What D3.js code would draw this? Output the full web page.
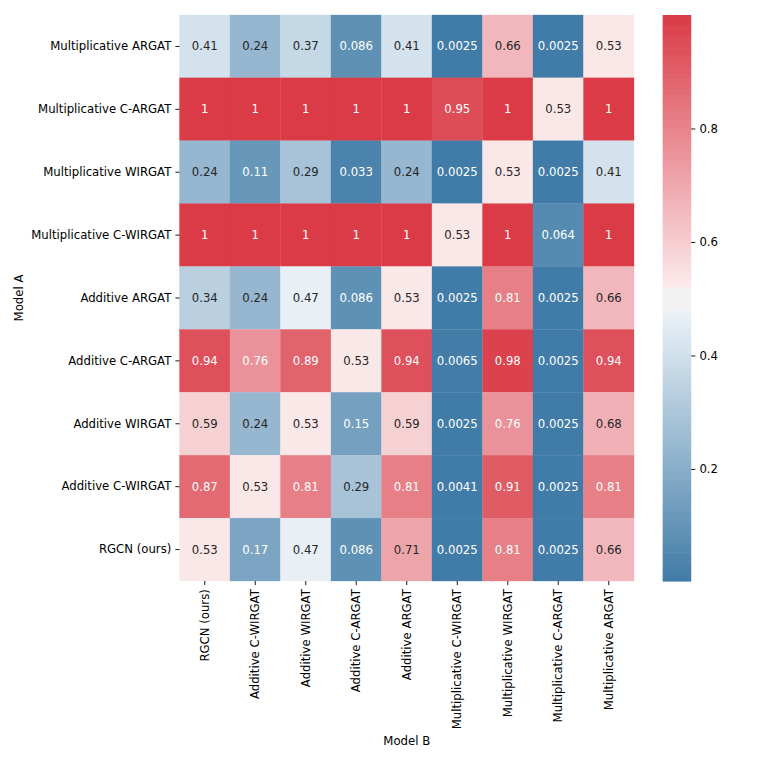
<!DOCTYPE html>
<html>
<head>
<meta charset="utf-8">
<script src="https://cdn.jsdelivr.net/npm/d3@7"></script>
<style>
  html, body { margin: 0; padding: 0; background: #fff; }
  svg { display: block; font-family: "DejaVu Sans", sans-serif; }
</style>
</head>
<body>
<svg id="chart" width="761" height="761"></svg>
<script>
// ---------------- data ----------------
const rowLabels = ["Multiplicative ARGAT", "Multiplicative C-ARGAT", "Multiplicative WIRGAT",
  "Multiplicative C-WIRGAT", "Additive ARGAT", "Additive C-ARGAT", "Additive WIRGAT",
  "Additive C-WIRGAT", "RGCN (ours)"];
const colLabels = ["RGCN (ours)", "Additive C-WIRGAT", "Additive WIRGAT", "Additive C-ARGAT",
  "Additive ARGAT", "Multiplicative C-WIRGAT", "Multiplicative WIRGAT",
  "Multiplicative C-ARGAT", "Multiplicative ARGAT"];
const row0 = [0.41, 0.24, 0.37, 0.086, 0.41, 0.0025, 0.66, 0.0025, 0.53];
const row1 = [1, 1, 1, 1, 1, 0.95, 1, 0.53, 1];
const row2 = [0.24, 0.11, 0.29, 0.033, 0.24, 0.0025, 0.53, 0.0025, 0.41];
const row3 = [1, 1, 1, 1, 1, 0.53, 1, 0.064, 1];
const row4 = [0.34, 0.24, 0.47, 0.086, 0.53, 0.0025, 0.81, 0.0025, 0.66];
const row5 = [0.94, 0.76, 0.89, 0.53, 0.94, 0.0065, 0.98, 0.0025, 0.94];
const row6 = [0.59, 0.24, 0.53, 0.15, 0.59, 0.0025, 0.76, 0.0025, 0.68];
const row7 = [0.87, 0.53, 0.81, 0.29, 0.81, 0.0041, 0.91, 0.0025, 0.81];
const row8 = [0.53, 0.17, 0.47, 0.086, 0.71, 0.0025, 0.81, 0.0025, 0.66];
const matrix = [row0, row1, row2, row3, row4, row5, row6, row7, row8];
const cbarTicks = [0.2, 0.4, 0.6, 0.8];
const xTitle = "Model B";
const yTitle = "Model A";

// ---------------- colormap (seaborn diverging_palette(240, 10), sep=10) ----------------
const M = [[3.2406, -1.5372, -0.4986], [-0.9689, 1.8758, 0.0415], [0.0557, -0.2040, 1.0570]];
const refU = 0.19784, refV = 0.46834, labE = 0.008856, labK = 903.3;
function maxChroma(L, H) {
  const hr = H * Math.PI / 180, sinH = Math.sin(hr), cosH = Math.cos(hr);
  const sub1 = Math.pow(L + 16, 3) / 1560896.0;
  const sub2 = sub1 > 0.008856 ? sub1 : L / 903.3;
  let result = Infinity;
  for (const [m1, m2, m3] of M) {
    const top = (0.99915 * m1 + 1.05122 * m2 + 1.14460 * m3) * sub2;
    const rb = 0.86330 * m3 - 0.17266 * m2;
    const lb = 0.12949 * m3 - 0.38848 * m1;
    const bottom = (rb * sinH + lb * cosH) * sub2;
    for (const t of [0, 1]) {
      const C = L * (top - 1.05122 * t) / (bottom + 0.17266 * sinH * t);
      if (C > 0 && C < result) result = C;
    }
  }
  return result;
}
function husl(H, S, L) {
  const C = L > 99.9999999 ? 0 : maxChroma(L, H) / 100 * S;
  const hr = H * Math.PI / 180;
  const U = C * Math.cos(hr), V = C * Math.sin(hr);
  if (L === 0) return [0, 0, 0];
  const t = (L + 16) / 116;
  const Y = Math.pow(t, 3) > labE ? Math.pow(t, 3) : (116 * t - 16) / labK;
  const vU = U / (13 * L) + refU, vV = V / (13 * L) + refV;
  const X = 0 - (9 * Y * vU) / ((vU - 4) * vV - vU * vV);
  const Z = (9 * Y - 15 * vV * Y - vV * X) / (3 * vV);
  return M.map(r => {
    const c = r[0] * X + r[1] * Y + r[2] * Z;
    const s = c <= 0.0031308 ? 12.92 * c : 1.055 * Math.pow(c, 1 / 2.4) - 0.055;
    return Math.max(0, Math.min(1, s));
  });
}
// python colorsys rgb<->hls, used to set lightness to 0.95
function rgbToHls([r, g, b]) {
  const maxc = Math.max(r, g, b), minc = Math.min(r, g, b);
  const l = (minc + maxc) / 2;
  if (minc === maxc) return [0, l, 0];
  const s = l <= 0.5 ? (maxc - minc) / (maxc + minc) : (maxc - minc) / (2 - maxc - minc);
  const rc = (maxc - r) / (maxc - minc), gc = (maxc - g) / (maxc - minc), bc = (maxc - b) / (maxc - minc);
  let h;
  if (r === maxc) h = bc - gc; else if (g === maxc) h = 2 + rc - bc; else h = 4 + gc - rc;
  h = ((h / 6) % 1 + 1) % 1;
  return [h, l, s];
}
function hlsToRgb([h, l, s]) {
  if (s === 0) return [l, l, l];
  const m2 = l <= 0.5 ? l * (1 + s) : l + s - l * s;
  const m1 = 2 * l - m2;
  const v = hue => {
    hue = ((hue % 1) + 1) % 1;
    if (hue < 1 / 6) return m1 + (m2 - m1) * hue * 6;
    if (hue < 0.5) return m2;
    if (hue < 2 / 3) return m1 + (m2 - m1) * (2 / 3 - hue) * 6;
    return m1;
  };
  return [v(h + 1 / 3), v(h), v(h - 1 / 3)];
}
const lighten = c => { const [h, , s] = rgbToHls(c); return hlsToRgb([h, 0.95, s]); };

const sep = 10, nSide = 128 - Math.floor(sep / 2);
const negDark = husl(240, 75, 50), negLight = lighten(negDark);
const posDark = husl(10, 75, 50), posLight = lighten(posDark);
const lerp = (a, b, t) => a.map((v, i) => v + (b[i] - v) * t);
const lut = [];
for (let i = 0; i < nSide; i++) lut.push(lerp(negDark, negLight, i / (nSide - 1)));
for (let i = 0; i < sep; i++) lut.push([0.95, 0.95, 0.95]);
for (let i = 0; i < nSide; i++) lut.push(lerp(posLight, posDark, i / (nSide - 1)));
const N = lut.length;
const allVals = matrix.flat();
const vmin = d3.min(allVals), vmax = d3.max(allVals);
function cmap(v) {
  const x = (v - vmin) / (vmax - vmin);
  const k = Math.max(0, Math.min(N - 1, Math.floor(x * N)));
  return lut[k];
}
const toCss = c => d3.rgb(c[0] * 255, c[1] * 255, c[2] * 255).formatHex();
function relLum(c) {
  const l = c.map(v => v <= 0.03928 ? v / 12.92 : Math.pow((v + 0.055) / 1.055, 2.4));
  return 0.2126 * l[0] + 0.7152 * l[1] + 0.0722 * l[2];
}
const fmt = v => {
  let s = d3.format(".2")(v);
  if (s.includes("e")) s = String(v);
  return s;
};

// ---------------- layout ----------------
const svg = d3.select("#chart");
const fs = 11.7;
const hm = { x0: 179.5, x1: 634, y0: 15, y1: 581 };
const cb = { x0: 662.7, x1: 691.2 };
const tickLen = 4.1, tickPad = 4.1;

const x = d3.scaleBand().domain(d3.range(colLabels.length)).range([hm.x0, hm.x1]);
const y = d3.scaleBand().domain(d3.range(rowLabels.length)).range([hm.y0, hm.y1]);

const cells = [];
matrix.forEach((row, i) => row.forEach((v, j) => cells.push({ i, j, v })));

const g = svg.append("g");
g.selectAll("rect.cell").data(cells).join("rect")
  .attr("class", "cell")
  .attr("x", d => x(d.j)).attr("y", d => y(d.i))
  .attr("width", x.bandwidth()).attr("height", y.bandwidth())
  .attr("fill", d => toCss(cmap(d.v)))
  .attr("stroke", d => toCss(cmap(d.v))).attr("stroke-width", 0.3);

g.selectAll("text.annot").data(cells).join("text")
  .attr("class", "annot")
  .attr("x", d => x(d.j) + x.bandwidth() / 2)
  .attr("y", d => y(d.i) + y.bandwidth() / 2)
  .attr("text-anchor", "middle").attr("dominant-baseline", "central")
  .attr("font-size", fs)
  .attr("fill", d => relLum(cmap(d.v)) > 0.408 ? "#262626" : "#ffffff")
  .text(d => fmt(d.v));

// y axis
const yAxis = svg.append("g").attr("transform", `translate(${hm.x0},0)`)
  .call(d3.axisLeft(y).tickSize(tickLen).tickPadding(tickPad).tickFormat(i => rowLabels[i]));
yAxis.select(".domain").remove();
yAxis.selectAll("text").attr("font-size", fs).attr("font-family", "DejaVu Sans").attr("fill", "#000");
yAxis.selectAll("line").attr("stroke", "#000").attr("stroke-width", 0.9);

// x axis
const xAxis = svg.append("g").attr("transform", `translate(0,${hm.y1})`)
  .call(d3.axisBottom(x).tickSize(tickLen).tickPadding(tickPad).tickFormat(j => colLabels[j]));
xAxis.select(".domain").remove();
xAxis.selectAll("line").attr("stroke", "#000").attr("stroke-width", 0.9);
xAxis.selectAll("text")
  .attr("font-size", fs).attr("font-family", "DejaVu Sans").attr("fill", "#000")
  .attr("text-anchor", "end").attr("dy", null)
  .attr("dominant-baseline", "central")
  .attr("transform", `translate(0,${tickLen + tickPad}) rotate(-90)`)
  .attr("x", 0).attr("y", 0);

// titles
svg.append("text").attr("x", (hm.x0 + hm.x1) / 2).attr("y", 741)
  .attr("text-anchor", "middle").attr("dominant-baseline", "central")
  .attr("font-size", fs).attr("fill", "#000").text(xTitle);
svg.append("text")
  .attr("transform", `translate(19,${(hm.y0 + hm.y1) / 2}) rotate(-90)`)
  .attr("text-anchor", "middle").attr("dominant-baseline", "central")
  .attr("font-size", fs).attr("fill", "#000").text(yTitle);

// colorbar
const cy = d3.scaleLinear().domain([vmin, vmax]).range([hm.y1, hm.y0]);
const steps = d3.range(N);
svg.append("g").selectAll("rect").data(steps).join("rect")
  .attr("x", cb.x0).attr("width", cb.x1 - cb.x0)
  .attr("y", k => cy(vmin + (k + 1) / N * (vmax - vmin)))
  .attr("height", k => Math.abs(cy(vmin + k / N * (vmax - vmin)) - cy(vmin + (k + 1) / N * (vmax - vmin))) + 0.6)
  .attr("fill", k => toCss(lut[k]));
const cAxis = svg.append("g").attr("transform", `translate(${cb.x1},0)`)
  .call(d3.axisRight(cy).tickValues(cbarTicks).tickSize(tickLen).tickPadding(tickPad).tickFormat(d3.format(".1f")));
cAxis.select(".domain").remove();
cAxis.selectAll("text").attr("font-size", fs).attr("font-family", "DejaVu Sans").attr("fill", "#000");
cAxis.selectAll("line").attr("stroke", "#000").attr("stroke-width", 0.9);
</script>
</body>
</html>
